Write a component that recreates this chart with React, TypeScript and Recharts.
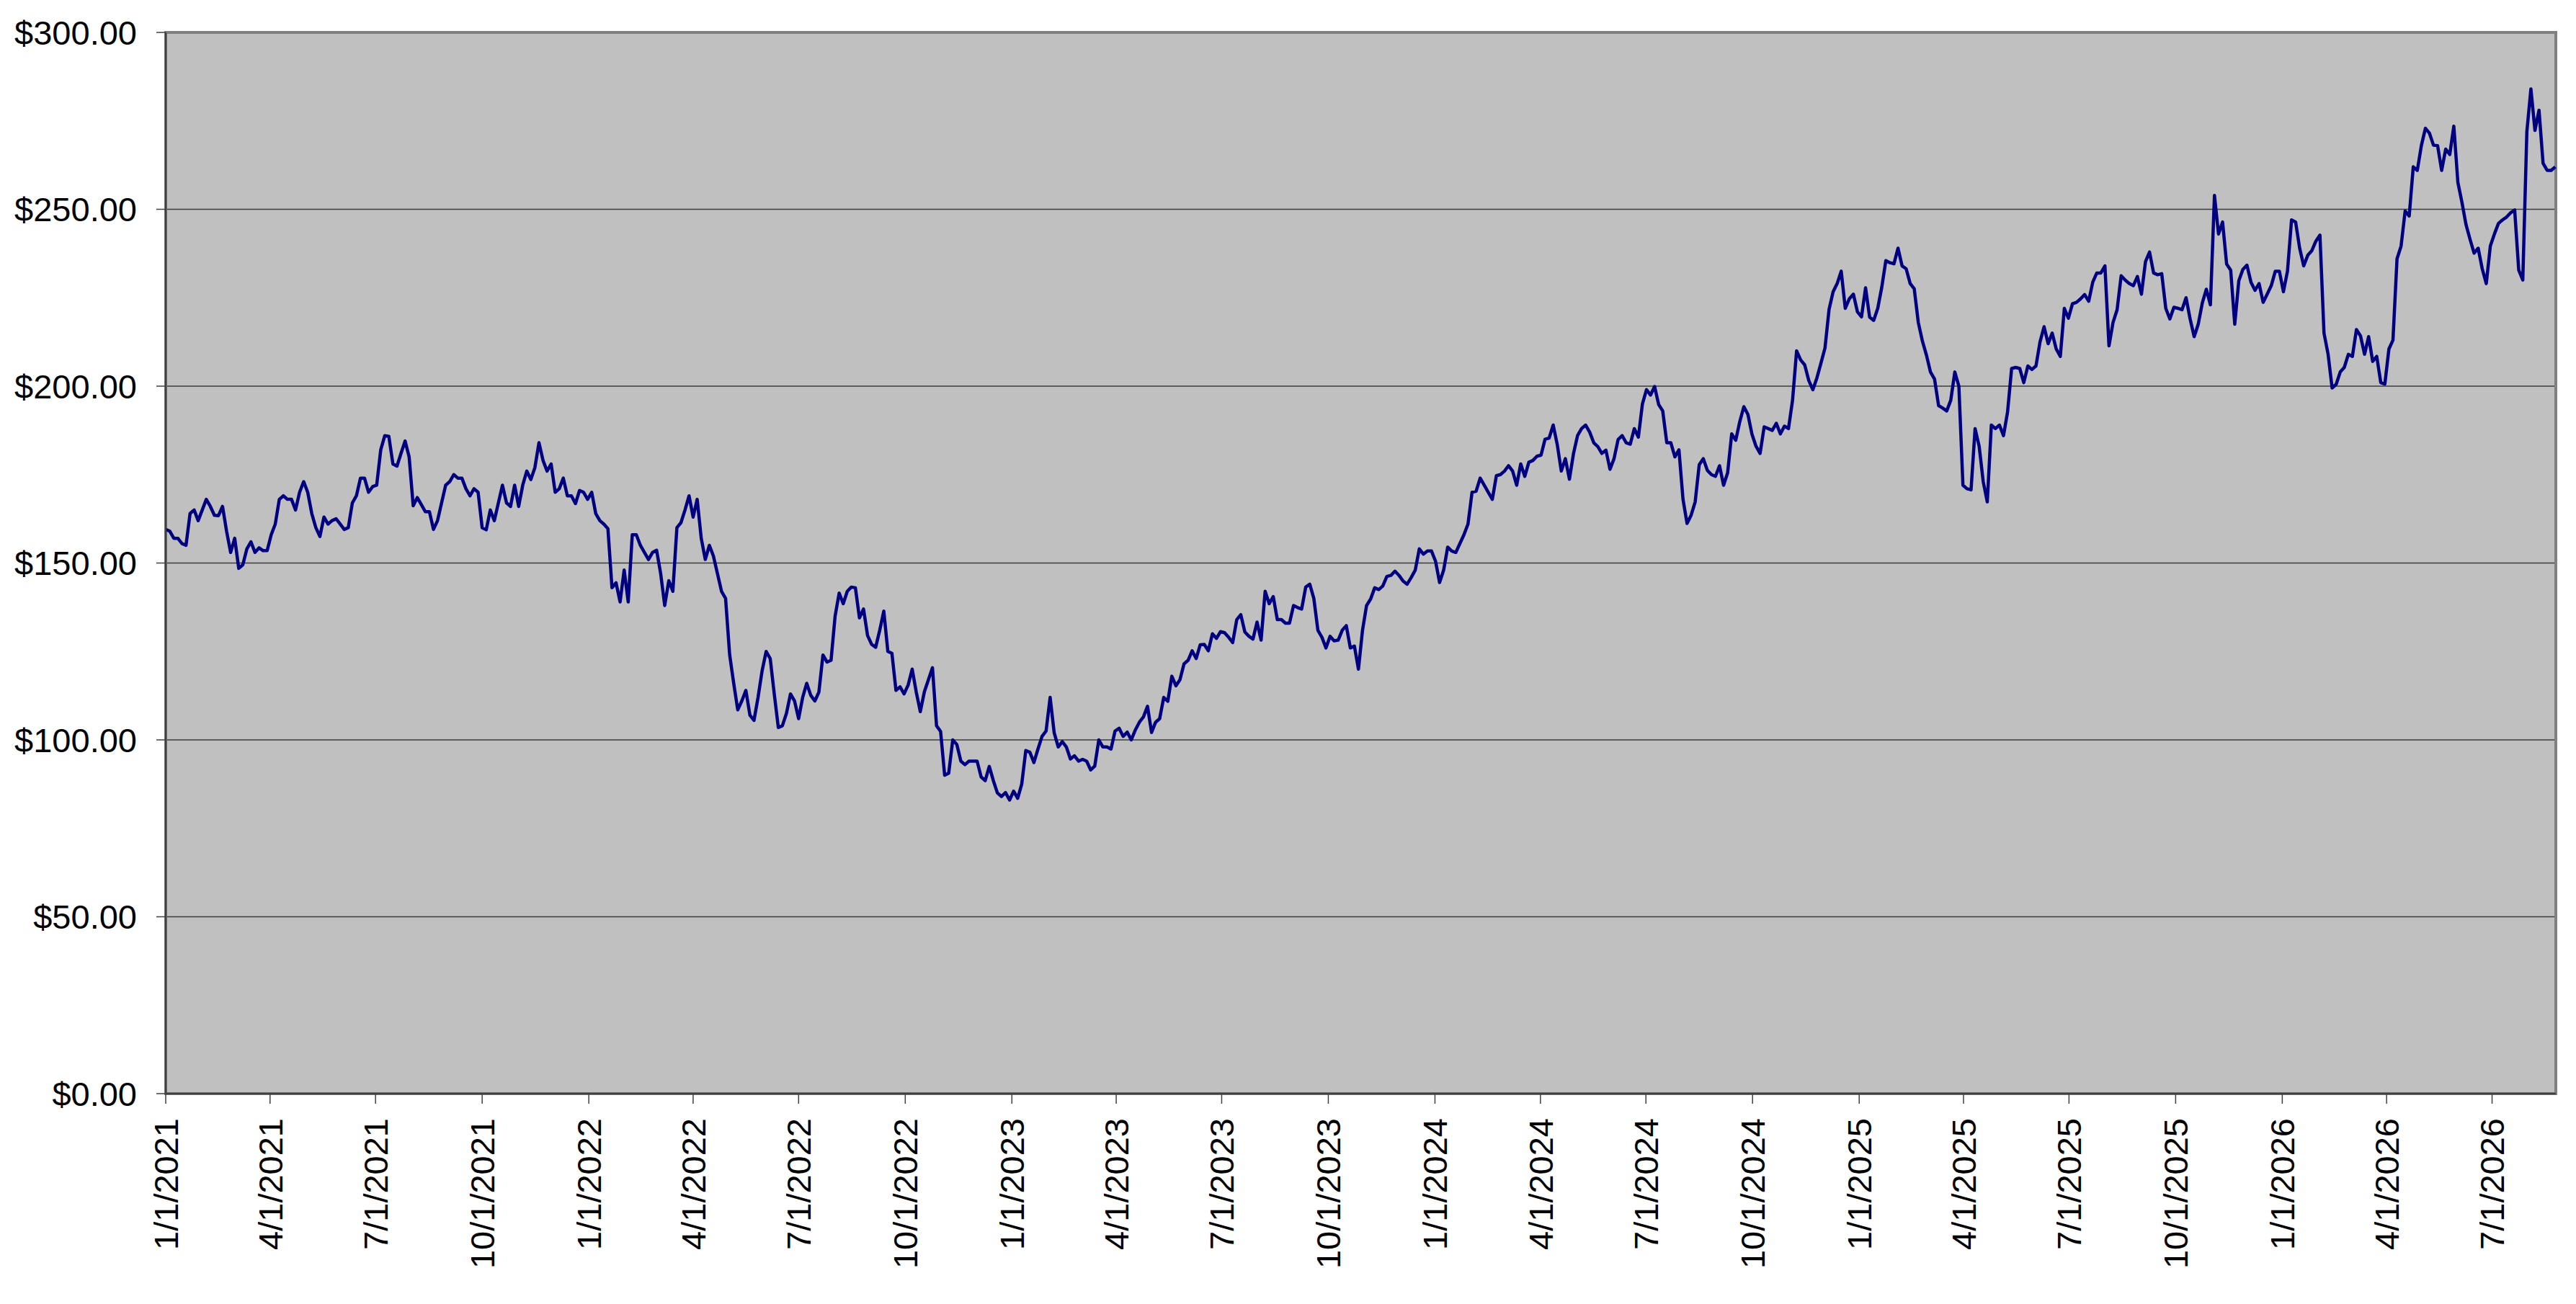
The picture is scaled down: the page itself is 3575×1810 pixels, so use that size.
import React from 'react';
import {
  LineChart,
  Line,
  XAxis,
  YAxis,
  CartesianGrid,
  ReferenceArea,
} from 'recharts';

// closing prices read twice a week (every 3.5 days), starting 1/1/2021
const firstDate = '1/1/2021';
const stepDays = 3.5;
const closes = [
  // 2021
  159.5, 159, 157, 157, 155.5, 155, 164, 165, 162, 165,
  168, 166, 163.5, 163.4, 166, 159, 153, 157, 148.5, 149.5,
  154, 156, 153, 154.3, 153.5, 153.5, 158, 161, 168, 169,
  168, 168, 165, 170, 173, 170, 164, 160, 157.5, 163,
  161, 162, 162.5, 161, 159.5, 160, 167, 169, 174, 174,
  170, 171.6, 172, 182, 186, 185.8, 178, 177.4, 181, 184.5,
  180, 166.2, 168.5, 166.5, 164.5, 164.5, 159.5, 162, 167, 172,
  173, 175, 174, 174, 171, 169,
  171, 170, 160, 159.4, 165, 162, 167, 172, 167, 166,
  172, 166, 172, 176, 173.6, 177, 184, 179, 176, 178,
  170, 171, 174, 169, 169, 166.8, 170.5, 170, 168, 170,
  // 2022
  164, 162, 161, 159.7, 143, 144.4, 139, 148, 139, 158,
  158, 155, 153, 151, 153, 153.6, 147, 138, 145, 142,
  160, 161.4, 165, 169, 163, 168, 157, 151, 155, 152,
  147, 142, 140, 124.1, 116, 108.5, 111, 114, 107, 105.5,
  112, 119.5, 125, 123,
  113, 103.5, 104, 107.5, 113, 111, 106, 112, 116, 112.6,
  111, 113.5, 124, 122, 122.5, 135, 141.5, 138.5, 142, 143.2,
  143, 134.5, 137, 129.5, 127, 126.2, 131, 136.4, 125, 124.5,
  114, 115, 113, 115.5, 120, 113.5, 108, 113.6, 117, 120.4,
  104, 102.4, 90, 90.6, 100, 98.7, 94, 93, 94, 94,
  94, 89.5, 88.5, 92.5, 88.5, 85, 84, 85.1, 83, 85.5,
  // 2023
  83.5, 87.5, 97, 96.5, 93.6, 97.4, 101, 102.5, 112, 102,
  98, 99.5, 98, 94.6,
  95.5, 94, 94.5, 94, 91.5, 92.6, 100, 98, 98, 97.4,
  102.5, 103.3, 101, 102.2, 100, 102.8, 105, 106.5, 109.5, 102.1,
  105, 106, 112, 110.9, 118, 115.3, 117, 121.5, 122.5, 125.2,
  123, 126.9, 127, 125.2, 130, 128.7, 130.6, 130.3, 129, 127.5,
  134, 135.4, 130.5, 129.3, 128.5, 133.3, 128.2, 142, 138.5, 140.5,
  134, 134, 133, 133, 138, 137.4, 137, 143.2, 144, 140,
  131, 129, 126, 129.3, 128, 128.2, 131, 132.3, 126, 126.5,
  120, 131, 138, 139.8, 143, 142.5,
  143.5, 146.2, 146.5, 147.7, 146.5, 144.9, 144, 145.9, 148, 154,
  152.5, 153.4, 153.4, 150.5,
  // 2024
  144.5, 148, 154.5, 153.4, 153, 155.5, 158, 161, 170, 170.3,
  174, 172, 170, 168, 174.7, 175, 176, 177.5, 176, 172,
  178, 174.5, 178.5, 179, 180.2, 180.5, 185, 185.3, 189, 183.5,
  176, 179.5, 173.7, 180.9, 186, 188, 189, 187, 184, 182.9,
  181, 181.9, 176.5, 179.5, 184.9, 186, 184, 183.6, 188, 185.6,
  195, 199, 197.5, 199.9, 194.8, 193, 184, 184, 180, 182,
  168, 161.2, 163.5, 167.3, 177.8, 179.5, 176.2, 175, 174.5, 177.5,
  172, 175.5, 186.5, 184.7, 190, 194.2, 192, 186.4, 183, 181,
  188.5, 188, 187.5, 189.5, 186.5, 188.7, 188, 196, 210, 207.4,
  206, 201.6, 199, 202.3, 206.5, 210.8, 221.7, 226.7, 229, 232.5,
  222, 224.7, 226, 221,
  // 2025
  219.6, 227.8, 219.5, 218.6, 222, 228, 235.5, 234.9, 234.6, 239,
  234, 233.2, 229, 227.5, 218, 212.8, 208.8, 204, 202, 194.5,
  193.8, 193, 196, 204, 200, 172, 171, 170.7, 188, 183,
  173, 167.3, 189, 188, 189, 186, 192.7, 205, 205.3, 205,
  201, 205.7, 204.7, 205.7, 212.5, 216.8, 212, 215, 210.5, 208.4,
  222, 219.2, 223.3, 223.7, 224.7, 225.9, 224, 229.4, 232, 232,
  234, 211.4, 218, 221.6, 231.2, 230, 229, 228.4, 231, 226,
  235.2, 237.9, 232, 231.5, 231.8, 222, 219, 222.3, 222, 221.6,
  225, 219, 214, 217.5, 223.5, 227.4, 223, 253.9, 243, 246.4,
  234.5, 232.8, 217.5, 229.8, 233, 234.2, 229.4, 227.1, 229, 223.7,
  226, 228.4, 232.5, 232.5, 226.7, 232.5,
  // 2026
  247, 246.4, 239, 234, 237, 238.3, 241, 242.7, 215, 209.1,
  199.5, 200.5, 204, 205.3, 209, 208.4, 216, 214.2, 209, 214,
  207, 208.4, 201, 200.6, 210.5, 213, 236, 239.6, 249.5, 248.1,
  262, 261, 268, 272.9, 271.5, 268.1, 268, 261, 267, 265.5,
  273.5, 257.6, 252, 245.7, 241.5, 237.6, 239, 233.2, 229, 239.6,
  243, 246, 247, 247.8, 249, 249.8, 232.8, 230, 271.9, 284,
  272.3, 278, 263, 261, 261, 262,
];

const quarterLabels = [
  '1/1/2021', '4/1/2021', '7/1/2021', '10/1/2021',
  '1/1/2022', '4/1/2022', '7/1/2022', '10/1/2022',
  '1/1/2023', '4/1/2023', '7/1/2023', '10/1/2023',
  '1/1/2024', '4/1/2024', '7/1/2024', '10/1/2024',
  '1/1/2025', '4/1/2025', '7/1/2025', '10/1/2025',
  '1/1/2026', '4/1/2026', '7/1/2026',
];
const lastDate = '8/25/2026';
const priceTicks = [0, 50, 100, 150, 200, 250, 300];

const DAY = 86400000;
const toUtc = (s: string) => {
  const [m, d, y] = s.split('/').map(Number);
  return Date.UTC(y, m - 1, d);
};
const origin = toUtc(firstDate);
const dayOf = (s: string) => Math.round((toUtc(s) - origin) / DAY);

const data = closes.map((price, i) => ({ day: i * stepDays, price }));
const tickDays = quarterLabels.map(dayOf);
const labelByDay = new Map(tickDays.map((d, i) => [d, quarterLabels[i]]));
const endDay = dayOf(lastDate);

const FONT = '"Liberation Sans", Arial, sans-serif';

const DateTick = ({ x, y, payload }: any) => (
  <g transform={`translate(${x},${y})`}>
    <text
      transform="rotate(-90)"
      x={-20}
      y={0}
      dy="0.36em"
      textAnchor="end"
      fill="#000"
      fontSize={47}
      fontFamily={FONT}
    >
      {labelByDay.get(payload.value)}
    </text>
  </g>
);

const money = (v: number) => `$${v.toFixed(2)}`;

export default function App() {
  return (
    <div style={{ position: 'absolute', left: 0, top: 0, background: '#fff' }}>
      <LineChart
        width={3575}
        height={1810}
        data={data}
        margin={{ top: 45, right: 28, left: 0, bottom: 0 }}
      >
        <CartesianGrid
          vertical={false}
          fill="#C0C0C0"
          stroke="#3c3c3c"
          strokeWidth={1.5}
        />
        <ReferenceArea
          x1={0}
          x2={endDay}
          y1={0}
          y2={300}
          fill="none"
          stroke="#808080"
          strokeWidth={4}
        />
        <XAxis
          dataKey="day"
          type="number"
          domain={[0, endDay]}
          ticks={tickDays}
          interval={0}
          height={292}
          tickSize={14}
          tickMargin={0}
          tick={<DateTick />}
          axisLine={{ stroke: '#404040', strokeWidth: 2.5 }}
          tickLine={{ stroke: '#404040', strokeWidth: 1.5 }}
        />
        <YAxis
          type="number"
          domain={[0, 300]}
          ticks={priceTicks}
          interval={0}
          width={230}
          tickSize={13}
          tickMargin={27}
          tickFormatter={money}
          tick={{ fill: '#000', fontSize: 47, fontFamily: FONT }}
          axisLine={{ stroke: '#404040', strokeWidth: 2.5 }}
          tickLine={{ stroke: '#404040', strokeWidth: 1.5 }}
        />
        <Line
          type="linear"
          dataKey="price"
          stroke="#000080"
          strokeWidth={4.5}
          strokeLinejoin="round"
          dot={false}
          isAnimationActive={false}
        />
      </LineChart>
    </div>
  );
}
